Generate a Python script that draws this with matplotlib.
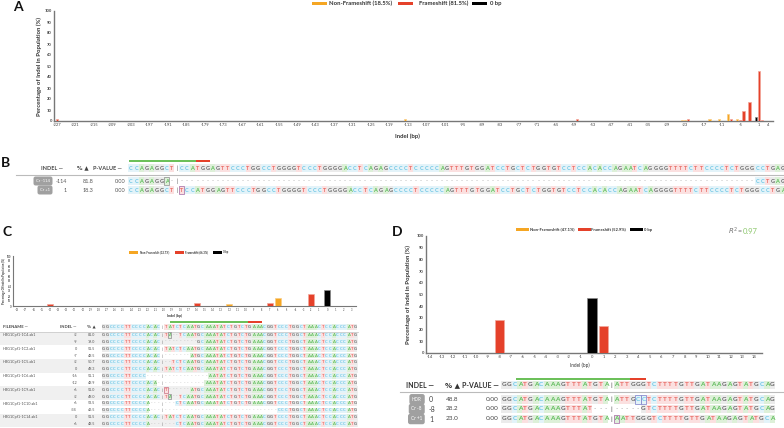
import matplotlib
matplotlib.use('Agg')
import matplotlib.pyplot as plt
from matplotlib.patches import Rectangle

# ---------------- data ----------------
A_indel = [-227, -114, -58, -24, -23, -22, -15, -12, -9, -8, -6, -5, -4, -2, 0, 1, 2]
A_pct = [1.5, 1.8, 1.8, 0.8, 0.8, 1.5, 1.8, 1.8, 6.4, 1.8, 1.8, 0.8, 9.0, 17.5, 4.0, 45.5, 0.8]
A_kind = ['FS', 'NF', 'FS', 'NF', 'NF', 'FS', 'NF', 'NF', 'NF', 'FS', 'NF', 'FS', 'FS', 'FS', '0', 'FS', 'FS']
A_ticks = list(range(-227, 2, 6)) + [4]
A_legend = ['Non-Frameshift (18.5%)', 'Frameshift (81.5%)', '0 bp']

B_ref_pre = "CCAGAGGCT"
B_ref_post = ("CCATGGAGTTCCCTGGCCTGGGGTCCCTGGGGACCTCAGAGCC"
              "CCTCCCCCAGTTTGTGGATCCTGCTCTGGTGTCCTCCACACCAGAATCAGGGGTTTTCTTCCCCTCTGGGCCTGAG")
B_ref = B_ref_pre + "|" + B_ref_post
B_rows = ["CCAGAGGA-|" + "-" * (len(B_ref_post) - 6) + "CCTGAG",
          B_ref_pre + "|" + "T" + B_ref_post[:-1]]
B_badges = ['Cr -114', 'Cr +1']
B_indels = ['-114', '1']
B_pcts = ['81.8', '18.3']
B_pvals = ['0.00', '0.00']
B_boxes = [[7], [10]]

C_indel = [-34, -16, -12, -9, -7, -6, -4, -2, 0]
C_pct = [5, 6, 5, 1, 6, 17, 1, 24, 33]
C_kind = ['FS', 'FS', 'NF', 'NF', 'FS', 'NF', 'FS', 'FS', '0']
C_ticks = list(range(-38, 4))
C_legend = ['Non-Frameshift (33.7%)', 'Frameshift (66.3%)', '0 bp']

C_pre = "GGCCCCTTCCCCACAC"
C_post = "TATCTCAATGCAAATATCTGTCTGAAACGGTCCCTGGCTAAACTCCACCCATG"
C_ref = C_pre + "|" + C_post
C_files = ['HBG1Cpf1-1C4.ab1', 'HBG1Cpf1-1C2.ab1', 'HBG1Cpf1-1C5.ab1', 'HBG1Cpf1-1C6.ab1',
           'HBG1Cpf1-1C9.ab1', 'HBG1Cpf1-1C10.ab1', 'HBG1Cpf1-1C14.ab1']
C_row_indel = [-2, -9, 0, -7, -2, 0, -16, -12, -6, -2, -6, -34, 0, -6]
C_row_pct = [81.0, 19.0, 51.5, 48.5, 50.7, 49.3, 51.1, 48.9, 51.0, 49.0, 53.5, 46.5, 51.5, 48.5]
C_rows = [
    C_pre + "|" + "TA--" + C_post[4:],
    C_pre + "|" + "-" * 9 + C_post[9:],
    C_ref,
    C_pre + "|" + "-" * 7 + C_post[7:],
    C_pre + "|" + "--" + C_post[2:],
    C_ref,
    C_pre[:12] + "----" + "|" + "-" * 12 + C_post[12:],
    C_pre[:15] + "-" + "|" + "-" * 11 + C_post[11:],
    C_pre + "|" + "T" + "-" * 6 + C_post[7:],
    C_pre + "|" + "TA--" + C_post[4:],
    C_pre[:13] + "---" + "|" + "---" + C_post[3:],
    C_pre[:13] + "---" + "|" + "-" * 31 + C_post[31:],
    C_ref,
    C_pre[:13] + "---" + "|" + "---" + C_post[3:],
]
C_boxes = {0: [18], 8: [17], 9: [18]}

D_indel = [-8, 0, 1]
D_pct = [28.2, 47.0, 23.0]
D_kind = ['FS', '0', 'FS']
D_ticks = list(range(-14, 15))
D_legend = ['Non-Frameshift (47.1%)', 'Frameshift (52.9%)', '0 bp']
D_r2 = '0.97'

D_pre = "GGCATGACAAAGTTTATGTA"
D_post = "ATTGGGTCTTTTGTTGATAAGAGTATGCAG"
D_ref = D_pre + "|" + D_post
D_rows = ["GGCATGACAAAGTTTATGTA|ATTGCCTCTTTTGTTGATAAGAGTATGCAG",
          "GGCATGACAAAGTTTAT---|-----GTCTTTTGTTGATAAGAGTATGCAG",
          "GGCATGACAAAGTTTATGTA|AATTGGGTCTTTTGTTGATAAGAGTATGCA"]
D_badges = ['HDR', 'Cr -8', 'Cr +1']
D_indels = ['0', '-8', '1']
D_pcts = ['48.8', '28.2', '23.0']
D_pvals = ['0.00', '0.00', '0.00']
D_boxes = [[25, 26], [], [21]]

# ---------------- style ----------------
W, H = 784, 428
ORANGE, RED, BLACK = '#F5A623', '#E5412A', '#000000'
FILL = {'NF': ORANGE, 'FS': RED, '0': BLACK}
EDGE = {'NF': '#F9CD85', 'FS': '#F3A79B', '0': '#8A8A8A'}
SEQ_FG = {'A': '#5DBB5A', 'C': '#6EC6E4', 'G': '#666666', 'T': '#E86A64'}
SEQ_BG = {'A': '#DDF0D8', 'C': '#E3F3F9', 'G': '#EBEBEB', 'T': '#FBE0E0'}
plt.rcParams['font.family'] = ['Lato', 'DejaVu Sans']

fig = plt.figure(figsize=(W / 100, H / 100), dpi=100)
ov = fig.add_axes([0, 0, 1, 1])
ov.set_xlim(0, W)
ov.set_ylim(H, 0)
ov.axis('off')


def box(l, t, r, b):
    return [l / W, 1 - b / H, (r - l) / W, (b - t) / H]


def T(x, y, s, fs, color='#444444', ha='left', va='center', weight='normal', **kw):
    ov.text(x, y, s, fontsize=fs, color=color, ha=ha, va=va, fontweight=weight, **kw)


def draw_seq(s, x0, y, dx, h, fs, boxes=(), box_color='#9A9A9A'):
    for i, ch in enumerate(s):
        cx = x0 + i * dx
        if ch in SEQ_BG:
            ov.add_patch(Rectangle((cx - dx / 2, y - h / 2), dx, h, facecolor=SEQ_BG[ch],
                                   edgecolor='none', lw=0, zorder=1))
            ov.text(cx, y, ch, color=SEQ_FG[ch], fontsize=fs, ha='center', va='center',
                    fontweight='bold', zorder=3)
        elif ch == '-':
            ov.text(cx, y, '-', color='#9A9A9A', fontsize=fs, ha='center', va='center', zorder=3)
        elif ch == '|':
            ov.text(cx, y, '|', color='#444444', fontsize=fs, ha='center', va='center', zorder=3)
    for i in boxes:
        cx = x0 + i * dx
        ov.add_patch(Rectangle((cx - dx / 2, y - h / 2), dx, h, facecolor='none',
                               edgecolor=box_color, lw=0.6, zorder=4))


def badge(xr, y, s, fs):
    ov.text(xr, y, s, fontsize=fs, color='white', ha='right', va='center',
            bbox=dict(boxstyle='round,pad=0.6,rounding_size=0.5', facecolor='#A0A0A0',
                      edgecolor='none'), zorder=5)


def legend(x_items, y, labels, fs, pw, ph):
    for (xp, xt), lab, k in zip(x_items, labels, ['NF', 'FS', '0']):
        ov.add_patch(Rectangle((xp, y - ph / 2), pw, ph, facecolor=FILL[k], edgecolor='none'))
        T(xt, y, lab, fs, color='#333333', weight='bold')


def bar_chart(rect, cats, vals, kinds, xlim, ticks, fs_tick, width, lw_sp):
    ax = fig.add_axes(rect)
    ax.patch.set_alpha(0)
    ax.bar(cats, vals, width=width, color=[FILL[k] for k in kinds],
           edgecolor=[EDGE[k] for k in kinds], linewidth=0.5, zorder=3)
    ax.set_xlim(*xlim)
    ax.set_ylim(0, 100)
    ax.set_yticks(range(0, 101, 10))
    ax.set_xticks(ticks)
    ax.set_xticklabels([str(t) for t in ticks])
    for sp in ['top', 'right']:
        ax.spines[sp].set_visible(False)
    for sp in ['left', 'bottom']:
        ax.spines[sp].set_color('#777777')
        ax.spines[sp].set_linewidth(lw_sp)
    ax.tick_params(length=0, labelsize=fs_tick, colors='#444444', pad=1.5)
    for lab in ax.get_yticklabels():
        lab.set_fontweight('bold')
    return ax


# ---------------- Panel A ----------------
T(18, 7, 'A', 10, color='#111111', ha='center', weight='bold')
axA = bar_chart(box(54, 11, 773, 121), A_indel, A_pct, A_kind, (-227.97, 5.6), A_ticks, 3.0, 0.75, 1.0)
legend([(312, 329), (398, 419), (472, 490)], 3.5, A_legend, 4.2, 15, 3.8)
T(39, 66, 'Percentage of Indel in Population (%)', 4.3, color='#333333', ha='center',
  weight='bold', rotation=90)
T(407, 136, 'Indel (bp)', 4.3, color='#333333', ha='center', weight='bold')

# ---------------- Panel B ----------------
T(6, 163, 'B', 10, color='#111111', ha='center', weight='bold')
bx0, bdx = 131.0, 5.09
ov.add_patch(Rectangle((129, 159.5), 67, 2.2, facecolor='#6CC05A', edgecolor='none'))
ov.add_patch(Rectangle((196, 159.5), 14, 2.2, facecolor=RED, edgecolor='none'))
T(41, 168, 'INDEL —', 4.0, color='#444444', weight='bold')
T(77, 168, '% ▲', 4.0, color='#444444', weight='bold', family=['DejaVu Sans'])
T(93, 168, 'P-VALUE —', 4.0, color='#444444', weight='bold')
draw_seq(B_ref, bx0, 168, bdx, 7.5, 4.0)
ov.plot([16, 784], [175, 175], color='#BBBBBB', lw=0.8)
for i, yy in enumerate([181, 190]):
    badge(50, yy, B_badges[i], 3.0)
    T(67, yy, B_indels[i], 4.0, color='#555555', ha='right')
    T(83, yy, B_pcts[i], 4.0, color='#555555')
    T(126, yy, B_pvals[i], 4.0, color='#555555', ha='right')
    draw_seq(B_rows[i], bx0, yy, bdx, 7.5, 4.0, boxes=B_boxes[i],
             box_color='#9A9A9A' if i == 0 else '#B07CB0')

# ---------------- Panel C ----------------
T(7, 232, 'C', 10, color='#111111', ha='center', weight='bold')
axC = bar_chart(box(13, 256, 356, 306), C_indel, C_pct, C_kind, (-38.5, 3.5), C_ticks, 1.8, 0.75, 0.8)
legend([(129, 140), (175, 185), (213, 223)], 252, C_legend, 2.0, 9, 3)
T(4, 281, 'Percentage Of Indel In Population (%)', 2.0, color='#333333', ha='center',
  weight='bold', rotation=90)
T(175, 316, 'Indel (bp)', 2.6, color='#333333', ha='center', weight='bold')

cx0, cdx = 103.8, 3.65
ov.add_patch(Rectangle((170, 321), 78, 1.8, facecolor='#6CC05A', edgecolor='none'))
ov.add_patch(Rectangle((248, 321), 14, 1.8, facecolor=RED, edgecolor='none'))
T(3, 327, 'FILENAME —', 3.0, color='#444444', weight='bold')
T(60, 327, 'INDEL —', 3.0, color='#444444', weight='bold')
T(87, 327, '% ▲', 3.0, color='#444444', weight='bold', family=['DejaVu Sans'])
draw_seq(C_ref, cx0, 327, cdx, 6, 3.0)
ov.plot([0, 358], [331.5, 331.5], color='#CCCCCC', lw=0.6)
row_y0, row_dy = 335.0, 6.85
for p in range(len(C_files)):
    ytop = row_y0 + 2 * p * row_dy - row_dy / 2
    if p % 2 == 0:
        ov.add_patch(Rectangle((0, ytop), 358, 2 * row_dy, facecolor='#F0F0F0',
                               edgecolor='none', zorder=0))
    T(3, row_y0 + 2 * p * row_dy, C_files[p], 2.7, color='#555555')
for i, s in enumerate(C_rows):
    yy = row_y0 + i * row_dy
    T(77, yy, str(C_row_indel[i]), 2.7, color='#555555', ha='right')
    T(95, yy, '%.1f' % C_row_pct[i], 2.7, color='#555555', ha='right')
    draw_seq(s, cx0, yy, cdx, 5.6, 3.0, boxes=C_boxes.get(i, []),
             box_color='#9A9A9A' if i != 8 else '#D08090')

# ---------------- Panel D ----------------
T(397, 232, 'D', 10, color='#111111', ha='center', weight='bold')
axD = bar_chart(box(426, 236, 762, 352.7), D_indel, D_pct, D_kind, (-14.35, 14.69), D_ticks, 3.0, 0.8, 1.0)
legend([(516, 530), (578, 591), (630, 644)], 229.5, D_legend, 3.0, 13, 3.5)
T(408, 295, 'Percentage of Indel in Population (%)', 4.3, color='#333333', ha='center',
  weight='bold', rotation=90)
T(580, 365, 'Indel (bp)', 3.4, color='#333333', ha='center')
T(728, 231, '$R^2$', 5.0, color='#777777')
T(737, 231, '=', 5.0, color='#777777')
T(743, 231, D_r2, 5.5, color='#8DC76D')

dx0, ddx = 503.7, 5.37
ov.add_patch(Rectangle((516, 377.5), 114, 2.6, facecolor='#6CC05A', edgecolor='none'))
ov.add_patch(Rectangle((630, 377.5), 16, 2.6, facecolor=RED, edgecolor='none'))
T(406, 385, 'INDEL —', 5.0, color='#333333', weight='bold')
T(445, 385, '% ▲', 5.0, color='#333333', weight='bold', family=['DejaVu Sans'])
T(462, 385, 'P-VALUE —', 5.0, color='#333333', weight='bold')
draw_seq(D_ref, dx0, 385, ddx, 8.5, 4.6)
ov.plot([400, 784], [392, 392], color='#BBBBBB', lw=0.8)
for i, yy in enumerate([399.3, 409.0, 419.0]):
    badge(422, yy, D_badges[i], 3.3)
    T(429, yy, D_indels[i], 5.0, color='#444444')
    T(446, yy, D_pcts[i], 4.6, color='#444444')
    T(499, yy, D_pvals[i], 4.6, color='#444444', ha='right')
    draw_seq(D_rows[i], dx0, yy, ddx, 8.5, 4.6, boxes=D_boxes[i],
             box_color='#8B8FD0' if i == 0 else '#B07CB0')

fig.savefig('out.png', dpi=100)
